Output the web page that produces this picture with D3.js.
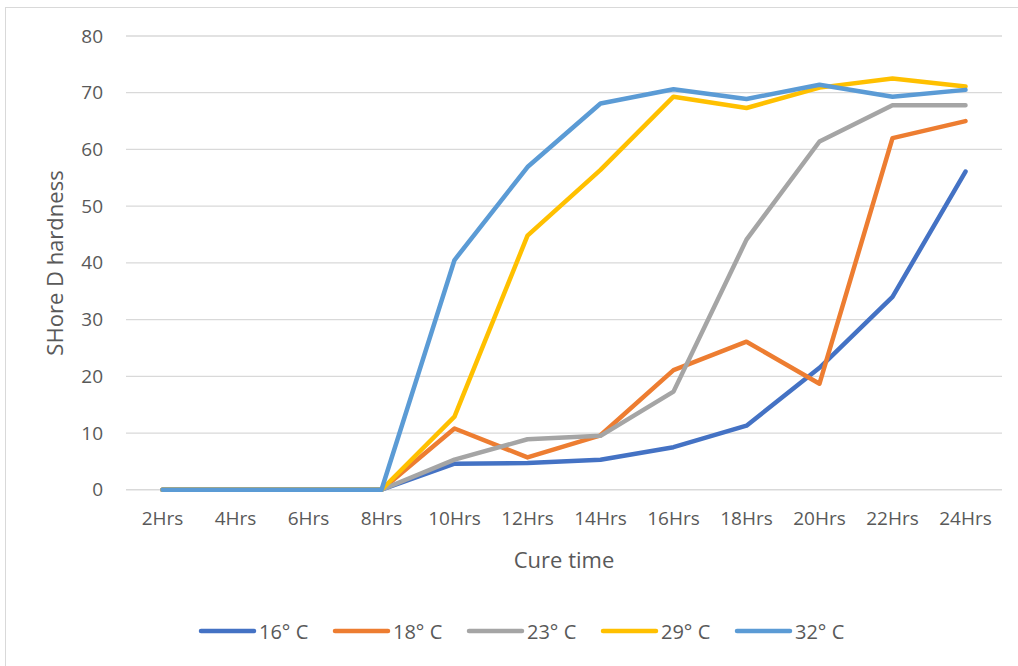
<!DOCTYPE html>
<html>
<head>
<meta charset="utf-8">
<script src="https://cdn.jsdelivr.net/npm/d3@7"></script>
<style>
    body { margin: 0; background: white; font-family: "Open Sans", "Liberation Sans", sans-serif; }
    svg { display: block; }
</style>
</head>
<body>
<svg id="chart"></svg>
<script>
    // data
    let categories = ["2Hrs", "4Hrs", "6Hrs", "8Hrs", "10Hrs", "12Hrs", "14Hrs", "16Hrs", "18Hrs", "20Hrs", "22Hrs", "24Hrs"];
    let seriesNames = ["16° C", "18° C", "23° C", "29° C", "32° C"];
    let seriesColors = ["#4472C4", "#ED7D31", "#A5A5A5", "#FFC000", "#5B9BD5"];
    let t16 = [0, 0, 0, 0, 4.6, 4.7, 5.3, 7.5, 11.3, 21.5, 34, 56.1];
    let t18 = [0, 0, 0, 0, 10.8, 5.7, 9.6, 21.1, 26.1, 18.7, 62, 65];
    let t23 = [0, 0, 0, 0, 5.3, 8.9, 9.5, 17.3, 44.1, 61.4, 67.8, 67.8];
    let t29 = [0, 0, 0, 0, 12.9, 44.8, 56.4, 69.3, 67.3, 70.9, 72.5, 71.1];
    let t32 = [0, 0, 0, 0, 40.5, 56.9, 68.1, 70.6, 68.9, 71.4, 69.3, 70.5];
    let yTicks = [0, 10, 20, 30, 40, 50, 60, 70, 80];

    let allSeries = [t16, t18, t23, t29, t32];

    let width = 1018, height = 666;
    let margin = { top: 36, left: 126, right: 16, bottom: 176 };
    let svg = d3.select("#chart").attr("width", width).attr("height", height);

    // chart border (only top and left show in the frame)
    svg.append("rect")
        .attr("x", 5.5).attr("y", 7.5)
        .attr("width", 1030).attr("height", 700)
        .attr("fill", "none")
        .attr("stroke", "#d9d9d9");

    let x = d3.scaleBand()
        .domain(categories)
        .range([margin.left, width - margin.right]);

    let y = d3.scaleLinear()
        .domain([0, 80])
        .range([height - margin.bottom - 0.25, margin.top]);

    // gridlines
    svg.append("g")
        .selectAll("line")
        .data(yTicks)
        .enter()
        .append("line")
        .attr("x1", margin.left)
        .attr("x2", width - margin.right)
        .attr("y1", d => y(d))
        .attr("y2", d => y(d))
        .attr("stroke", "#d9d9d9")
        .attr("stroke-width", 1.3);

    // y axis labels
    let axisY = d3.axisLeft(y).tickValues(yTicks).tickSize(0).tickPadding(23);
    let gy = svg.append("g")
        .attr("transform", `translate(${margin.left},0)`)
        .call(axisY);
    gy.select(".domain").remove();
    gy.selectAll("text")
        .attr("fill", "#595959")
        .style("font-size", "19px")
        .style("font-family", "Open Sans");

    // x axis labels
    let axisX = d3.axisBottom(x).tickSize(0).tickPadding(22);
    let gx = svg.append("g")
        .attr("transform", `translate(0,${y(0)})`)
        .call(axisX);
    gx.select(".domain").remove();
    gx.selectAll("text")
        .attr("fill", "#595959")
        .style("font-size", "19px")
        .style("font-family", "Open Sans");

    // axis titles
    svg.append("text")
        .attr("transform", "translate(63,263) rotate(-90)")
        .attr("text-anchor", "middle")
        .attr("fill", "#595959")
        .style("font-size", "22px")
        .text("SHore D hardness");

    svg.append("text")
        .attr("x", 564)
        .attr("y", 568)
        .attr("text-anchor", "middle")
        .attr("fill", "#595959")
        .style("font-size", "22px")
        .text("Cure time");

    // lines
    let line = d3.line()
        .x((d, i) => x(categories[i]) + x.bandwidth() / 2)
        .y(d => y(d));

    svg.append("g")
        .selectAll("path")
        .data(allSeries)
        .enter()
        .append("path")
        .attr("d", d => line(d))
        .attr("fill", "none")
        .attr("stroke", (d, i) => seriesColors[i])
        .attr("stroke-width", 4.5)
        .attr("stroke-linejoin", "round")
        .attr("stroke-linecap", "round");

    // legend
    let legend = svg.append("g")
        .selectAll("g")
        .data(seriesNames)
        .enter()
        .append("g")
        .attr("transform", (d, i) => `translate(${201 + i * 134},631)`);

    legend.append("line")
        .attr("x1", 0).attr("x2", 53)
        .attr("y1", 0).attr("y2", 0)
        .attr("stroke", (d, i) => seriesColors[i])
        .attr("stroke-width", 4.5)
        .attr("stroke-linecap", "round");

    legend.append("text")
        .attr("x", 58)
        .attr("y", 7.5)
        .attr("fill", "#595959")
        .style("font-size", "20px")
        .text(d => d);
</script>
</body>
</html>
